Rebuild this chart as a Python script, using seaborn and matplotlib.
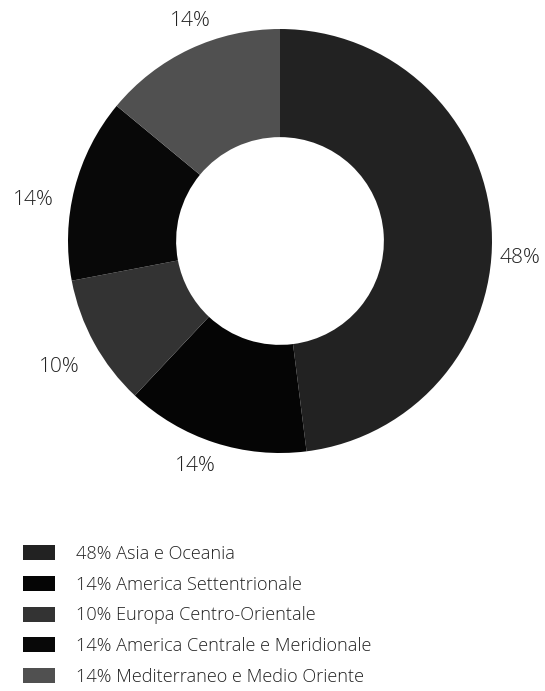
import matplotlib
matplotlib.use("Agg")
import matplotlib.pyplot as plt
import numpy as np
import seaborn as sns

regions = ["Asia e Oceania", "America Settentrionale", "Europa Centro-Orientale",
           "America Centrale e Meridionale", "Mediterraneo e Medio Oriente"]
shares = [48, 14, 10, 14, 14]
pct_labels = ["48%", "14%", "10%", "14%", "14%"]
colors = ["#222222", "#050505", "#333333", "#080808", "#505050"]

# label placement tweaks (angle offset in degrees, radial distance)
label_dtheta = [-7.6, -2.7, 1.0, 5.0, -3.0]
label_dist = [1.137, 1.134, 1.20, 1.18, 1.12]

sns.set_theme(style="white")
plt.rcParams['font.family'] = ['Open Sans', 'DejaVu Sans']

W, H = 545, 691
fig = plt.figure(figsize=(W / 100, H / 100), dpi=100)

R = 212.0
L = 1.2
cx, cy = 280, 241
side = 2 * L * R
ax = fig.add_axes([(cx - side / 2) / W, (H - cy - side / 2) / H, side / W, side / H])

wedges, _ = ax.pie(shares, colors=colors, startangle=90, counterclock=False,
                   wedgeprops=dict(width=0.51, linewidth=0))
for w, lab, dt, d in zip(wedges, pct_labels, label_dtheta, label_dist):
    ang = np.deg2rad((w.theta1 + w.theta2) / 2 + dt)
    ax.text(d * np.cos(ang), d * np.sin(ang), lab, ha="center", va="center",
            fontsize=15, color="#222222", fontweight="light")
ax.set_xlim(-L, L)
ax.set_ylim(-L, L)
ax.set_aspect("equal")
ax.axis("off")

leg_labels = [f"{p} {r}" for p, r in zip(pct_labels, regions)]
leg = fig.legend(wedges, leg_labels, loc="upper left",
                 bbox_to_anchor=(23 / W, (H - 545) / H), frameon=False,
                 prop=dict(size=13.1, weight="light"), handlelength=1.76, handleheight=0.88,
                 handletextpad=1.15, labelspacing=0.70, borderpad=0, borderaxespad=0,
                 labelcolor="#222222")

fig.savefig("out.png", dpi=100)
